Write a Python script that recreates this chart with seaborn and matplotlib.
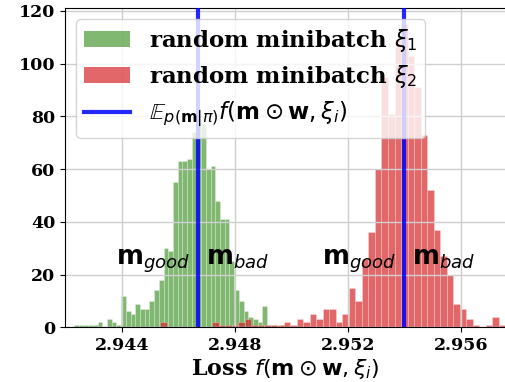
import numpy as np
import pandas as pd
import matplotlib
matplotlib.use("Agg")
import matplotlib.pyplot as plt
import seaborn as sns
from matplotlib.patches import Patch
from matplotlib.lines import Line2D

# ---- data ----
green_counts = [1, 1, 1, 1, 1, 2, 0, 3, 2, 1,
                12, 6, 5, 9, 7, 7, 10, 14, 18, 30,
                29, 55, 63, 63, 64, 74, 78, 77, 60, 61,
                48, 41, 41, 25, 14, 10, 6, 4, 3, 2,
                8, 1, 1, 0, 1]
green_lo, green_hi = 2.9423, 2.9498

red_counts = [2, 0, 0, 0, 0, 0, 0, 0, 2, 1,
              1, 1, 2, 3, 1, 1, 1, 1, 1, 2,
              1, 3, 2, 5, 3, 7, 7, 2, 5, 15,
              10, 26, 36, 60, 95, 81, 109, 115, 103, 91,
              73, 52, 37, 27, 20, 9, 7, 3, 1, 0,
              1, 4, 1]
red_lo, red_hi = 2.94535, 2.95756

mean_green = 2.94669
mean_red = 2.95397

xticks = [2.944, 2.948, 2.952, 2.956]
yticks = [0, 20, 40, 60, 80, 100, 120]

label_g = r"random minibatch $\xi_1$"
label_r = r"random minibatch $\xi_2$"
label_e = r"$\mathbb{E}_{p(\mathbf{m}|\pi)}f(\mathbf{m}\odot\mathbf{w},\xi_i)$"
xlabel_txt = r"Loss $f(\mathbf{m}\odot\mathbf{w},\xi_i)$"

# ---- build frames ----
g_edges = [float(v) for v in np.linspace(green_lo, green_hi, len(green_counts) + 1)]
r_edges = [float(v) for v in np.linspace(red_lo, red_hi, len(red_counts) + 1)]
df_g = pd.DataFrame({"loss": [(a + b) / 2 for a, b in zip(g_edges[:-1], g_edges[1:])],
                     "n": green_counts})
df_r = pd.DataFrame({"loss": [(a + b) / 2 for a, b in zip(r_edges[:-1], r_edges[1:])],
                     "n": red_counts})

GREEN = "#4a9a36"
RED = "#d62728"
ALPHA = 0.7

fig = plt.figure(figsize=(5.05, 3.82), dpi=100)
ax = fig.add_axes([65 / 505, 54.7 / 382, 441 / 505, 319.8 / 382])

sns.histplot(x=df_g["loss"], weights=df_g["n"], bins=g_edges, color=GREEN,
             alpha=ALPHA, edgecolor=(1, 1, 1, 0.35), linewidth=0.5, ax=ax)
sns.histplot(x=df_r["loss"], weights=df_r["n"], bins=r_edges, color=RED,
             alpha=ALPHA, edgecolor=(1, 1, 1, 0.35), linewidth=0.5, ax=ax)

for m in (mean_green, mean_red):
    ax.axvline(m, color="blue", lw=3, alpha=0.85, zorder=3)

ax.set_xlim(2.94198, 2.95759)
ax.set_ylim(0, 121.3)
ax.set_xticks(xticks)
ax.set_xticklabels([f"{t:.3f}" for t in xticks])
ax.set_yticks(yticks)
ax.grid(True, color="#cfcfcf", lw=1)
ax.spines["right"].set_visible(False)

for t in ax.get_xticklabels() + ax.get_yticklabels():
    t.set_fontfamily("DejaVu Serif")
    t.set_fontweight("bold")
    t.set_fontsize(12.5)

ax.set_ylabel("")
ax.set_xlabel(xlabel_txt, fontfamily="DejaVu Serif", fontweight="bold",
              fontsize=16, labelpad=2)

ann = 18.5
off = 0.00028
ax.text(mean_green - off, 24, r"$\mathbf{m}_{good}$", ha="right", va="baseline", fontsize=ann)
ax.text(mean_green + off, 24, r"$\mathbf{m}_{bad}$", ha="left", va="baseline", fontsize=ann)
ax.text(mean_red - off, 24, r"$\mathbf{m}_{good}$", ha="right", va="baseline", fontsize=ann)
ax.text(mean_red + off, 24, r"$\mathbf{m}_{bad}$", ha="left", va="baseline", fontsize=ann)

handles = [Patch(facecolor=GREEN, alpha=ALPHA),
           Patch(facecolor=RED, alpha=ALPHA),
           Line2D([0], [0], color="blue", lw=3, alpha=0.85)]
leg = ax.legend(handles, [label_g, label_r, label_e], loc="upper left",
                borderaxespad=0.5, handletextpad=0.8, labelspacing=0.4,
                borderpad=0.35,
                prop={"family": "DejaVu Serif", "weight": "bold", "size": 16.5})
leg.set_zorder(10)

fig.savefig("out.png", dpi=100)
